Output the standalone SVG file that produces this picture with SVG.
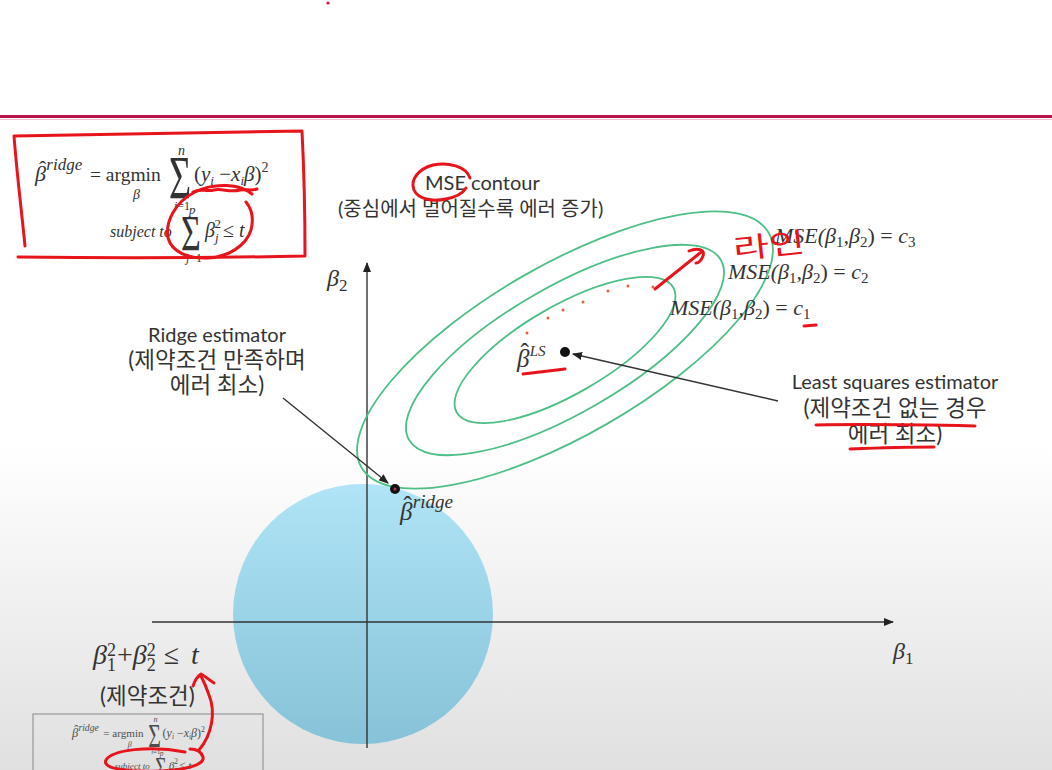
<svg xmlns="http://www.w3.org/2000/svg" xmlns:xlink="http://www.w3.org/1999/xlink" width="1052" height="770" viewBox="0 0 1052 770">
<defs>
<linearGradient id="bg" x1="0" y1="0" x2="0" y2="1">
<stop offset="0" stop-color="#ffffff"/>
<stop offset="0.58" stop-color="#ffffff"/>
<stop offset="1" stop-color="#e0e0e0"/>
</linearGradient>
<linearGradient id="ball" x1="0" y1="0" x2="0" y2="1">
<stop offset="0" stop-color="#b0e4f6"/>
<stop offset="1" stop-color="#86c2d8"/>
</linearGradient>
<marker id="ah" markerWidth="10" markerHeight="8" refX="9" refY="4" orient="auto" markerUnits="userSpaceOnUse">
<path d="M0,0 L10,4 L0,8 Z" fill="#222"/>
</marker>
<style>
.sans{font-family:Lato,"Noto Sans CJK KR",sans-serif;font-size:20px;fill:#333}
.ko{font-family:Lato,"Noto Sans CJK KR",sans-serif;font-size:22.5px;fill:#333}
.m{font-family:"Liberation Serif","DejaVu Serif",serif;fill:#333}
.mi{font-family:"Liberation Serif","DejaVu Serif",serif;font-style:italic;fill:#333}
.up{font-style:normal}
.red{fill:none;stroke:#e8141c;stroke-width:3;stroke-linecap:round;stroke-linejoin:round}
.ell{fill:none;stroke:#4dbf87;stroke-width:1.8}
.ax{stroke:#333;stroke-width:1.4;fill:none}
</style>
<g id="formula">
<text class="mi" x="35" y="181" font-size="22">β<tspan class="up" dx="-7" dy="-5">ˆ</tspan><tspan font-size="17" dx="0" dy="-6">ridge</tspan></text>
<text class="m" x="90" y="181" font-size="19.5">= argmin</text>
<text class="mi" x="133" y="199" font-size="14">β</text>
<text class="m" transform="translate(169,198) scale(1,1.6)" font-size="38">Σ</text>
<text class="mi" x="178" y="155" font-size="14">n</text>
<text class="m" x="174" y="210" font-size="12"><tspan class="mi">i</tspan>=1</text>
<text class="m" x="194" y="181" font-size="21">(<tspan class="mi">y</tspan><tspan class="mi" font-size="13" dy="4">i</tspan><tspan dy="-4"> −</tspan><tspan class="mi">x</tspan><tspan class="mi" font-size="13" dy="4">i</tspan><tspan class="mi" dy="-4">β</tspan>)<tspan font-size="14" dy="-9">2</tspan></text>
<text class="mi" x="110" y="237" font-size="16">subject to</text>
<text class="m" transform="translate(181,250) scale(1,1.5)" font-size="34">Σ</text>
<text class="mi" x="189" y="214" font-size="13">p</text>
<text class="m" x="186" y="262" font-size="12"><tspan class="mi">j</tspan>=1</text>
<text class="mi" x="205" y="237" font-size="20">β<tspan font-size="13" dx="0" dy="5">j</tspan><tspan class="up" font-size="13" dx="-4" dy="-14">2</tspan><tspan class="up" dx="2" dy="9">≤ </tspan>t</text>
</g>
</defs>

<rect x="0" y="0" width="1052" height="770" fill="url(#bg)"/>
<circle cx="328" cy="3" r="1.6" fill="#e01030"/>
<line x1="0" y1="116.5" x2="1052" y2="116.5" stroke="#b8144a" stroke-width="3"/>
<line x1="0" y1="119.5" x2="1052" y2="119.5" stroke="#ecc0cc" stroke-width="1"/>

<g id="top-formula">
<use xlink:href="#formula"/>
<path class="red" d="M14,136 C90,134 200,133 302,131 C304,170 305,215 305,256 C210,258 100,258 18,257 M14,136 C17,175 22,215 25,246"/>
<path class="red" d="M252,194 C240,184 215,182 195,192 C175,202 165,222 168,238 C172,252 188,259 208,258 C228,257 246,246 251,230 C254,218 251,208 246,202" stroke-width="2.5"/>
<path class="red" d="M193,192 C200,188 206,192 214,190 C222,188 230,193 240,190 C246,189 252,191 257,189" stroke-width="2"/>
</g>

<g id="ball">
<circle cx="363" cy="614" r="130" fill="url(#ball)"/>
</g>

<g id="axes">
<line class="ax" x1="152" y1="622" x2="893" y2="622" marker-end="url(#ah)"/>
<line class="ax" x1="367" y1="748" x2="367" y2="263" marker-end="url(#ah)"/>
<text class="mi" x="327" y="286" font-size="24">β<tspan class="up" font-size="17" dy="5">2</tspan></text>
<text class="mi" x="893" y="659" font-size="24">β<tspan class="up" font-size="17" dy="5">1</tspan></text>
</g>

<g id="contours" transform="rotate(-30 565 350)">
<ellipse class="ell" cx="565" cy="350" rx="235" ry="85"/>
<ellipse class="ell" cx="565" cy="350" rx="180" ry="63"/>
<ellipse class="ell" cx="565" cy="350" rx="125" ry="44"/>
</g>

<g id="contour-labels">
<text class="sans" x="425" y="190" font-size="19.5">MSE contour</text>
<text class="sans" x="338" y="216" font-size="20.5">(중심에서 멀어질수록 에러 증가)</text>
<path class="red" d="M470,178 C466,166 448,162 433,165 C418,169 410,180 414,190 C418,199 432,202 446,199 C456,197 463,193 466,188" stroke-width="2.5"/>
<text class="mi" x="775" y="243" font-size="22">MSE(β<tspan class="up" font-size="15" dy="4">1</tspan><tspan dy="-4">,β</tspan><tspan class="up" font-size="15" dy="4">2</tspan><tspan class="up" dy="-4">) = </tspan><tspan>c</tspan><tspan class="up" font-size="15" dy="4">3</tspan></text>
<text class="mi" x="728" y="279" font-size="22">MSE(β<tspan class="up" font-size="15" dy="4">1</tspan><tspan dy="-4">,β</tspan><tspan class="up" font-size="15" dy="4">2</tspan><tspan class="up" dy="-4">) = </tspan><tspan>c</tspan><tspan class="up" font-size="15" dy="4">2</tspan></text>
<text class="mi" x="670" y="315" font-size="22">MSE(β<tspan class="up" font-size="15" dy="4">1</tspan><tspan dy="-4">,β</tspan><tspan class="up" font-size="15" dy="4">2</tspan><tspan class="up" dy="-4">) = </tspan><tspan>c</tspan><tspan class="up" font-size="15" dy="4">1</tspan></text>
<path class="red" d="M804,326 L816,325" stroke-width="3"/>
<text x="733" y="256" font-family="'Noto Sans CJK KR',sans-serif" font-size="28" fill="#e8141c" transform="rotate(-6 765 245)" textLength="72" lengthAdjust="spacingAndGlyphs">라인</text>
<path class="red" d="M655,289 L700,253 M689,251 C698,247 705,250 703,256 C701,261 698,263 696,263" stroke-width="2.5"/>
<g fill="#e06040">
<circle cx="527" cy="333" r="1.5"/><circle cx="548" cy="318" r="1.5"/><circle cx="563" cy="310" r="1.5"/><circle cx="583" cy="302" r="1.5"/><circle cx="608" cy="291" r="1.5"/><circle cx="628" cy="286" r="1.5"/><circle cx="653" cy="287" r="1.5"/>
</g>
</g>

<g id="ls-estimator">
<circle cx="565" cy="352" r="5" fill="#111"/>
<text class="mi" x="517" y="367" font-size="25">β<tspan class="up" dx="-9" dy="-6">ˆ</tspan><tspan font-size="15" dx="1" dy="-5">LS</tspan></text>
<path class="red" d="M523,374 L565,369" stroke-width="3"/>
<text class="sans" x="895" y="389" text-anchor="middle">Least squares estimator</text>
<text class="ko" x="895" y="416" text-anchor="middle">(제약조건 없는 경우</text>
<text class="ko" x="895" y="442" text-anchor="middle">에러 최소)</text>
<path class="red" d="M816,425 C860,424 930,425 975,426" stroke-width="2.5"/>
<path class="red" d="M850,449 C875,448 905,447 934,447" stroke-width="2.5"/>
</g>

<g id="ridge-estimator">
<circle cx="395" cy="489" r="5" fill="#111"/>
<circle cx="395" cy="489" r="1.5" fill="#c03050"/>
<text class="mi" x="400" y="520" font-size="25">β<tspan class="up" dx="-9" dy="-6">ˆ</tspan><tspan font-size="19" dx="1" dy="-6">ridge</tspan></text>
<text class="sans" x="217" y="342" text-anchor="middle">Ridge estimator</text>
<text class="ko" x="217" y="368" text-anchor="middle">(제약조건 만족하며</text>
<text class="ko" x="217" y="393" text-anchor="middle">에러 최소)</text>
</g>

<g id="connectors">
<line x1="283" y1="398" x2="388" y2="483" stroke="#333" stroke-width="1.4" marker-end="url(#ah)"/>
<line x1="778" y1="401" x2="573" y2="354" stroke="#333" stroke-width="1.4" marker-end="url(#ah)"/>
</g>

<g id="constraint">
<text class="mi" x="93" y="664" font-size="28">β<tspan class="up" font-size="18" dy="7">1</tspan><tspan class="up" font-size="18" dx="-9" dy="-15">2</tspan><tspan class="up" dx="1" dy="8">+</tspan>β<tspan class="up" font-size="18" dy="7">2</tspan><tspan class="up" font-size="18" dx="-9" dy="-15">2</tspan><tspan class="up" dx="8" dy="8">≤</tspan><tspan dx="12">t</tspan></text>
<text class="ko" x="100" y="704" font-size="23.5">(제약조건)</text>
<rect x="33" y="714" width="230" height="70" fill="none" stroke="#888" stroke-width="1"/>
<use xlink:href="#formula" transform="translate(52,634) scale(0.57)" opacity="0.85"/>
<path class="red" d="M185,752 C150,745 112,750 106,760 C101,769 130,772 160,771 C185,770 205,765 203,757 C201,751 195,749 190,749" stroke-width="2.5"/>
<path class="red" d="M199,750 C212,735 216,712 209,695 C206,686 203,680 201,676 M193,686 C195,680 198,676 201,674 C205,676 209,680 214,683" stroke-width="2.5"/>
</g>
</svg>
